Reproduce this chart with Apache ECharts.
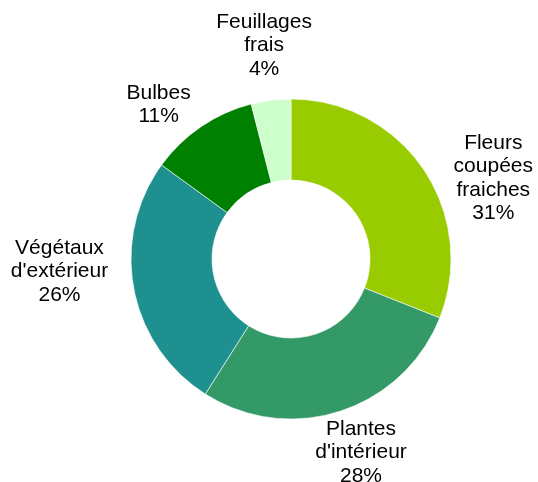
<!DOCTYPE html>
<html lang="fr">
<head>
  <meta charset="UTF-8">
  <title>Répartition</title>
  <script src="https://cdn.jsdelivr.net/npm/echarts@6/dist/echarts.min.js"></script>
  <style>
    html, body { margin: 0; padding: 0; background: #fff; }
    #main { width: 538px; height: 482px; }
  </style>
</head>
<body>
<div id="main"></div>
<script>
  // données
  var categories = ['Fleurs\ncoupées\nfraiches', "Plantes\nd'intérieur", "Végétaux\nd'extérieur", 'Bulbes', 'Feuillages\nfrais'];
  var values = [31, 28, 26, 11, 4];
  var colors = ['#99cc00', '#339966', '#1f9090', '#008000', '#ccffcc'];

  var cx = 291, cy = 259, rIn = 79, rOut = 160, gap = 6;
  // décalage des étiquettes (placement "au mieux" d'Excel)
  var labelShift = [[16, 46], [4, -10], [-15, -29], [-18, 14], [-1, -8]];

  var total = values.reduce(function (a, b) { return a + b; }, 0);
  // angle milieu de chaque part (sens horaire depuis midi)
  var mids = [];
  var acc = 0;
  for (var i = 0; i < values.length; i++) {
    mids.push((acc + values[i] / 2) / total * Math.PI * 2);
    acc += values[i];
  }

  var myChart = echarts.init(document.getElementById('main'));
  var option = {
    animation: false,
    series: [{
      type: 'pie',
      center: [cx, cy],
      radius: [rIn, rOut],
      startAngle: 90,
      clockwise: true,
      avoidLabelOverlap: false,
      itemStyle: { borderColor: '#fff', borderWidth: 0.6 },
      label: {
        show: true,
        position: 'outside',
        alignTo: 'none',
        overflow: 'none',
        formatter: function (p) { return p.name + '\n' + p.value + '%'; },
        fontFamily: 'Liberation Sans, Arial, sans-serif',
        fontSize: 21,
        lineHeight: 23.5,
        color: '#000'
      },
      labelLine: { show: false },
      labelLayout: function (p) {
        var a = mids[p.dataIndex];
        var ux = Math.sin(a), uy = -Math.cos(a);
        var hw = p.labelRect.width / 2, hh = p.labelRect.height / 2;
        var d = rOut + gap + hw * Math.abs(ux) + hh * Math.abs(uy);
        var s = labelShift[p.dataIndex];
        return { x: cx + ux * d + s[0], y: cy + uy * d + s[1], align: 'center', verticalAlign: 'middle' };
      },
      data: categories.map(function (c, i) {
        return { name: c, value: values[i], itemStyle: { color: colors[i] } };
      })
    }]
  };
  myChart.setOption(option);
</script>
</body>
</html>
